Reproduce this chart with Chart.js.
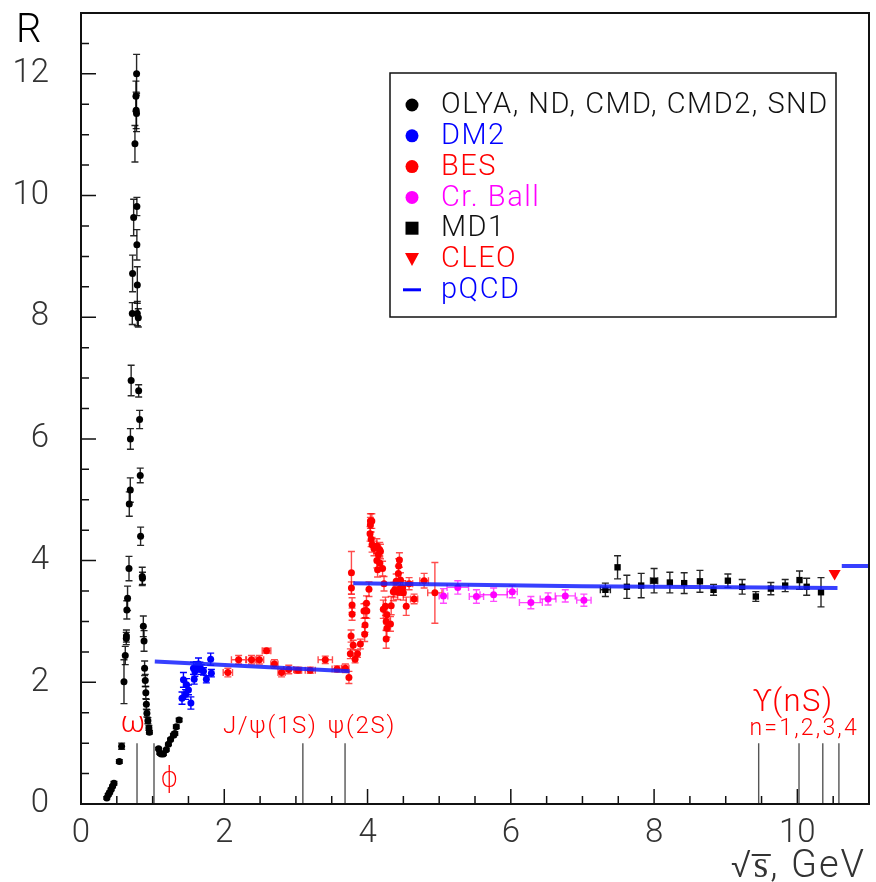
<!DOCTYPE html>
<html>
<head>
<meta charset="utf-8">
<script src="https://cdn.jsdelivr.net/npm/chart.js@4.4.1/dist/chart.umd.min.js"></script>
<style>
body { margin: 0; background: #fff; }
canvas { display: block; }
</style>
</head>
<body>
<canvas id="r-chart" width="876" height="882"></canvas>
<script>
// rows are [sqrt(s), R, yErr, xErr]
var olya = [
    [0.36, 0.10, 0.02], [0.38, 0.15, 0.02], [0.40, 0.19, 0.02], [0.42, 0.24, 0.02], [0.44, 0.29, 0.02], [0.46, 0.34, 0.03],
    [0.535, 0.70, 0.03], [0.567, 0.95, 0.05], [0.60, 2.01, 0.36], [0.618, 2.44, 0.15], [0.632, 2.72, 0.1], [0.634, 2.76, 0.1],
    [0.640, 3.19, 0.15], [0.650, 3.38, 0.2], [0.670, 3.87, 0.2], [0.674, 4.93, 0.2], [0.688, 5.16, 0.2], [0.690, 6.00, 0.17],
    [0.700, 6.96, 0.25], [0.716, 8.06, 0.18], [0.720, 8.72, 0.3], [0.735, 9.64, 0.3], [0.753, 10.85, 0.3], [0.767, 11.63, 0.25],
    [0.770, 11.40, 0.3], [0.775, 11.35, 0.3], [0.776, 12.0, 0.32], [0.780, 9.82, 0.15], [0.780, 9.19, 0.25], [0.786, 8.53, 0.3],
    [0.786, 8.06, 0.2], [0.80, 7.99, 0.15], [0.805, 6.79, 0.1], [0.818, 6.32, 0.15], [0.827, 5.40, 0.12], [0.832, 4.40, 0.15],
    [0.855, 3.74, 0.15], [0.858, 3.71, 0.1], [0.870, 2.92, 0.17], [0.880, 2.68, 0.17], [0.888, 2.23, 0.12], [0.897, 2.03, 0.1],
    [0.905, 1.83, 0.1], [0.912, 1.64, 0.08], [0.920, 1.49, 0.06], [0.934, 1.37, 0.05], [0.948, 1.25, 0.04], [0.955, 1.18, 0.03],
    [1.083, 0.91, 0.02], [1.10, 0.84, 0.02], [1.12, 0.82, 0.02], [1.15, 0.82, 0.02], [1.19, 0.89, 0.02], [1.22, 0.98, 0.02],
    [1.25, 1.06, 0.02], [1.29, 1.13, 0.03], [1.31, 1.16, 0.03], [1.33, 1.27, 0.03], [1.37, 1.38, 0.03]
];
var dm2 = [
    [1.41, 1.74, 0.1], [1.43, 2.04, 0.12], [1.46, 1.80, 0.08], [1.474, 1.96, 0.1], [1.50, 1.875, 0.08], [1.534, 1.66, 0.1],
    [1.57, 2.23, 0.1], [1.58, 2.05, 0.08], [1.59, 2.18, 0.08], [1.61, 2.26, 0.08], [1.64, 2.30, 0.1], [1.66, 2.25, 0.08],
    [1.68, 2.21, 0.08], [1.71, 2.18, 0.06], [1.75, 2.05, 0.06], [1.81, 2.38, 0.1], [1.82, 2.15, 0.06]
];
var bes = [
    [2.05, 2.16, 0.07, 0.065], [2.20, 2.37, 0.07, 0.1], [2.38, 2.37, 0.07, 0.07], [2.49, 2.37, 0.07, 0.06], [2.59, 2.52, 0.04, 0.06],
    [2.70, 2.30, 0.07, 0.05], [2.80, 2.16, 0.07, 0.05], [2.90, 2.21, 0.07, 0.07], [3.03, 2.20, 0.05, 0.05], [3.20, 2.20, 0.05, 0.07],
    [3.41, 2.37, 0.06, 0.1], [3.575, 2.22, 0.05, 0.07], [3.69, 2.23, 0.07, 0.05], [3.74, 2.08, 0.1],
    [3.775, 3.80, 0.35], [3.775, 3.55, 0.1], [3.784, 3.27, 0.12], [3.784, 3.12, 0.1], [3.77, 2.76, 0.1], [3.80, 2.61, 0.08],
    [3.76, 2.47, 0.08], [3.826, 2.38, 0.06], [3.86, 2.47, 0.06], [3.90, 2.63, 0.08], [3.96, 2.79, 0.12], [3.965, 2.94, 0.12],
    [3.95, 3.17, 0.12], [3.975, 3.18, 0.12], [3.99, 3.17, 0.12], [3.985, 3.30, 0.12], [4.02, 3.53, 0.12], [4.04, 4.65, 0.12],
    [4.06, 4.65, 0.12], [4.04, 4.59, 0.12], [4.035, 4.44, 0.12], [4.05, 4.35, 0.12], [4.063, 4.26, 0.12], [4.09, 4.20, 0.12],
    [4.13, 4.24, 0.12], [4.17, 4.18, 0.12], [4.18, 4.15, 0.12], [4.15, 4.10, 0.12], [4.13, 4.00, 0.12], [4.17, 3.96, 0.12],
    [4.14, 3.85, 0.12], [4.21, 3.87, 0.12], [4.23, 3.62, 0.12], [4.22, 3.20, 0.15], [4.25, 3.25, 0.15], [4.27, 3.11, 0.15],
    [4.26, 3.00, 0.15], [4.32, 2.96, 0.12], [4.27, 2.89, 0.15], [4.26, 2.71, 0.15], [4.33, 3.26, 0.15], [4.36, 3.49, 0.15],
    [4.38, 3.52, 0.12], [4.40, 3.66, 0.12], [4.43, 3.79, 0.12], [4.435, 3.91, 0.12], [4.445, 4.01, 0.12], [4.42, 3.48, 0.12],
    [4.46, 3.55, 0.12], [4.46, 3.68, 0.12], [4.49, 3.55, 0.12], [4.50, 3.47, 0.12], [4.54, 3.25, 0.15], [4.58, 3.62, 0.1, 0.05],
    [4.65, 3.37, 0.08, 0.05], [4.79, 3.67, 0.12, 0.06], [4.94, 3.47, 0.5, 0.1]
];
var crball = [
    [5.06, 3.42, 0.12, 0.06], [5.26, 3.56, 0.11, 0.15], [5.52, 3.41, 0.11, 0.1], [5.76, 3.44, 0.11, 0.19], [6.02, 3.49, 0.1, 0.07],
    [6.28, 3.31, 0.1, 0.16], [6.52, 3.37, 0.1, 0.11], [6.76, 3.42, 0.1, 0.14], [7.02, 3.35, 0.1, 0.1]
];
var md1 = [
    [7.32, 3.52, 0.11, 0.07], [7.49, 3.89, 0.19], [7.62, 3.57, 0.19], [7.82, 3.59, 0.2], [8.0, 3.67, 0.2, 0.05], [8.22, 3.64, 0.17],
    [8.42, 3.63, 0.17], [8.64, 3.66, 0.18], [8.83, 3.52, 0.09], [9.03, 3.67, 0.11], [9.23, 3.57, 0.12], [9.42, 3.41, 0.08],
    [9.63, 3.54, 0.1], [9.83, 3.59, 0.1], [10.03, 3.68, 0.15], [10.13, 3.57, 0.14], [10.33, 3.48, 0.24]
];
var cleo = [[10.52, 3.79]];
// pQCD curve, null breaks the segments
var pqcdX = [1.03, 3.75, 3.77, 3.80, 7.0, 10.56, 10.6, 10.62, 11.0];
var pqcdY = [2.34, 2.18, null, 3.63, 3.58, 3.55, null, 3.91, 3.91];
// resonance markers drawn from R=0 to R=1
var resMass = [0.782, 1.019, 3.097, 3.686, 9.46, 10.023, 10.355, 10.58];
var xTicks = [0, 2, 4, 6, 8, 10];
var yTicks = [0, 2, 4, 6, 8, 10, 12];

var RED = '#ff0000', BLUE = '#0000ff', MAG = '#ff00ff', BLK = '#000000';

function toPoints(rows) {
    return rows.map(function(r) { return { x: r[0], y: r[1] }; });
}

var resPoints = [];
resMass.forEach(function(m) {
    resPoints.push({ x: m, y: 0 }, { x: m, y: 1 }, { x: m, y: null });
});

var errSets = [
    [olya, 'rgba(0,0,0,0.85)'], [dm2, BLUE], [bes, 'rgba(255,0,0,0.7)'],
    [crball, 'rgba(255,0,255,0.7)'], [md1, 'rgba(0,0,0,0.85)']
];

var legendRows = [
    { text: 'OLYA, ND, CMD, CMD2, SND', color: BLK, mark: 'circle', textColor: '#111' },
    { text: 'DM2', color: BLUE, mark: 'circle', textColor: BLUE },
    { text: 'BES', color: RED, mark: 'circle', textColor: RED },
    { text: 'Cr. Ball', color: MAG, mark: 'circle', textColor: MAG },
    { text: 'MD1', color: BLK, mark: 'rect', textColor: '#111' },
    { text: 'CLEO', color: RED, mark: 'tri', textColor: RED },
    { text: 'pQCD', color: BLUE, mark: 'line', textColor: BLUE }
];

var notes = [
    { text: 'ω', x: 0.725, y: 1.30, size: 30, sp: 0 },
    { text: 'ϕ', x: 1.23, y: 0.40, size: 28, sp: 0 },
    { text: 'J/ψ(1S)', x: 2.63, y: 1.27, size: 24, sp: 1.8 },
    { text: 'ψ(2S)', x: 3.91, y: 1.27, size: 24, sp: 1.8 },
    { text: 'ϒ(nS)', x: 9.94, y: 1.66, size: 31, sp: 1.5 },
    { text: 'n=1,2,3,4', x: 10.08, y: 1.23, size: 23, sp: 2.2 }
];

// error bars, inward ticks, frame, legend and labels
var rootStyle = {
    id: 'rootStyle',
    beforeDatasetsDraw: function(chart) {
        var ctx = chart.ctx, xs = chart.scales.x, ys = chart.scales.y;
        ctx.save();
        ctx.lineWidth = 1.4;
        errSets.forEach(function(set) {
            ctx.strokeStyle = set[1];
            set[0].forEach(function(r) {
                var px = xs.getPixelForValue(r[0]), py = ys.getPixelForValue(r[1]);
                ctx.beginPath();
                if (r[2]) {
                    var t = ys.getPixelForValue(r[1] + r[2]), b = ys.getPixelForValue(r[1] - r[2]);
                    ctx.moveTo(px, t); ctx.lineTo(px, b);
                    ctx.moveTo(px - 3.5, t); ctx.lineTo(px + 3.5, t);
                    ctx.moveTo(px - 3.5, b); ctx.lineTo(px + 3.5, b);
                }
                if (r[3]) {
                    var l = xs.getPixelForValue(r[0] - r[3]), rr = xs.getPixelForValue(r[0] + r[3]);
                    ctx.moveTo(l, py); ctx.lineTo(rr, py);
                    ctx.moveTo(l, py - 3.5); ctx.lineTo(l, py + 3.5);
                    ctx.moveTo(rr, py - 3.5); ctx.lineTo(rr, py + 3.5);
                }
                ctx.stroke();
            });
        });
        ctx.restore();
    },
    afterDatasetsDraw: function(chart) {
        var ctx = chart.ctx, xs = chart.scales.x, ys = chart.scales.y, a = chart.chartArea;
        ctx.save();
        // ticks inside the frame
        ctx.strokeStyle = '#111';
        ctx.lineWidth = 1.5;
        ctx.beginPath();
        for (var v = 0; v <= 13; v += 0.5) {
            var py = ys.getPixelForValue(v), len = (v % 2 === 0) ? 15 : 8;
            ctx.moveTo(a.left, py); ctx.lineTo(a.left + len, py);
        }
        for (var u = 0; u <= 11; u += 0.5) {
            var px = xs.getPixelForValue(u), len2 = (u % 2 === 0) ? 15 : 8;
            ctx.moveTo(px, a.bottom); ctx.lineTo(px, a.bottom - len2);
        }
        ctx.stroke();
        ctx.lineWidth = 2;
        ctx.strokeRect(a.left, a.top, a.right - a.left, a.bottom - a.top);

        // annotation labels
        ctx.fillStyle = RED;
        ctx.textAlign = 'center';
        ctx.textBaseline = 'middle';
        notes.forEach(function(n) {
            ctx.font = '300 ' + n.size + 'px Roboto, "DejaVu Sans"';
            ctx.letterSpacing = n.sp + 'px';
            ctx.fillText(n.text, xs.getPixelForValue(n.x) + n.sp / 2, ys.getPixelForValue(n.y));
        });

        // legend box
        var bx = 390, by = 73, bw = 446, bh = 244;
        ctx.fillStyle = '#fff';
        ctx.fillRect(bx, by, bw, bh);
        ctx.strokeStyle = '#111';
        ctx.lineWidth = 1.5;
        ctx.strokeRect(bx, by, bw, bh);
        ctx.textAlign = 'left';
        ctx.font = '300 29px Roboto';
        ctx.letterSpacing = '1.5px';
        legendRows.forEach(function(row, i) {
            var cy = by + 32 + i * 30.8, mx = bx + 22;
            ctx.fillStyle = row.color;
            ctx.strokeStyle = row.color;
            ctx.beginPath();
            if (row.mark === 'circle') {
                ctx.arc(mx, cy, 6.5, 0, Math.PI * 2);
                ctx.fill();
            } else if (row.mark === 'rect') {
                ctx.fillRect(mx - 6.5, cy - 6.5, 13, 13);
            } else if (row.mark === 'tri') {
                ctx.moveTo(mx - 7, cy - 6); ctx.lineTo(mx + 7, cy - 6); ctx.lineTo(mx, cy + 7);
                ctx.closePath(); ctx.fill();
            } else {
                ctx.lineWidth = 3;
                ctx.moveTo(mx - 9, cy); ctx.lineTo(mx + 9, cy);
                ctx.stroke();
            }
            ctx.fillStyle = row.textColor;
            ctx.fillText(row.text, bx + 51, cy + 1);
        });

        // axis titles
        ctx.fillStyle = '#333';
        ctx.font = '300 38px Roboto';
        ctx.letterSpacing = '2px';
        ctx.textAlign = 'right';
        ctx.textBaseline = 'alphabetic';
        ctx.fillText('√s̅, GeV', a.right - 3, 877);
        ctx.letterSpacing = '0px';
        ctx.textAlign = 'left';
        ctx.fillStyle = '#000';
        ctx.font = '300 40px Roboto';
        ctx.fillText('R', 16, 42);
        ctx.restore();
    }
};

document.addEventListener("DOMContentLoaded", function() {
    var ctx = document.getElementById('r-chart').getContext('2d');
    var tickFont = { family: 'Roboto', size: 33, weight: '300' };

    new Chart(ctx, {
        type: 'scatter',
        data: {
            datasets: [
                { label: 'pQCD', order: -1, showLine: true, spanGaps: false, pointRadius: 0,
                  borderColor: 'rgba(20,30,255,0.85)', borderWidth: 4,
                  data: pqcdX.map(function(x, i) { return { x: x, y: pqcdY[i] }; }) },
                { label: 'res', showLine: true, spanGaps: false, pointRadius: 0,
                  borderColor: '#555', borderWidth: 1.4, data: resPoints },
                { label: 'OLYA, ND, CMD, CMD2, SND', data: toPoints(olya), pointRadius: 3.5, backgroundColor: BLK, borderWidth: 0 },
                { label: 'DM2', data: toPoints(dm2), pointRadius: 3.5, backgroundColor: BLUE, borderWidth: 0 },
                { label: 'BES', data: toPoints(bes), pointRadius: 3.5, backgroundColor: RED, borderWidth: 0 },
                { label: 'Cr. Ball', data: toPoints(crball), pointRadius: 3.5, backgroundColor: MAG, borderWidth: 0 },
                { label: 'MD1', data: toPoints(md1), pointStyle: 'rect', pointRadius: 4.5, backgroundColor: BLK, borderWidth: 0 },
                { label: 'CLEO', data: toPoints(cleo), pointStyle: 'triangle', rotation: 180, pointRadius: 7,
                  backgroundColor: RED, borderWidth: 0 }
            ]
        },
        options: {
            responsive: false,
            animation: false,
            events: [],
            layout: { padding: { left: 0, right: 4, top: 13, bottom: 0 } },
            plugins: { legend: { display: false }, tooltip: { enabled: false } },
            scales: {
                x: {
                    type: 'linear', min: 0, max: 11,
                    grid: { display: false },
                    border: { display: false },
                    afterBuildTicks: function(s) { s.ticks = xTicks.map(function(v) { return { value: v }; }); },
                    afterFit: function(s) { s.height = 78; s.paddingLeft = 0; s.paddingRight = 0; },
                    ticks: { font: tickFont, color: '#333', padding: 2, maxRotation: 0 }
                },
                y: {
                    type: 'linear', min: 0, max: 13,
                    grid: { display: false },
                    border: { display: false },
                    afterBuildTicks: function(s) { s.ticks = yTicks.map(function(v) { return { value: v }; }); },
                    afterFit: function(s) { s.width = 81; s.paddingTop = 0; s.paddingBottom = 0; },
                    ticks: { font: tickFont, color: '#333', padding: 24 }
                }
            }
        },
        plugins: [rootStyle]
    });
});
</script>
</body>
</html>
